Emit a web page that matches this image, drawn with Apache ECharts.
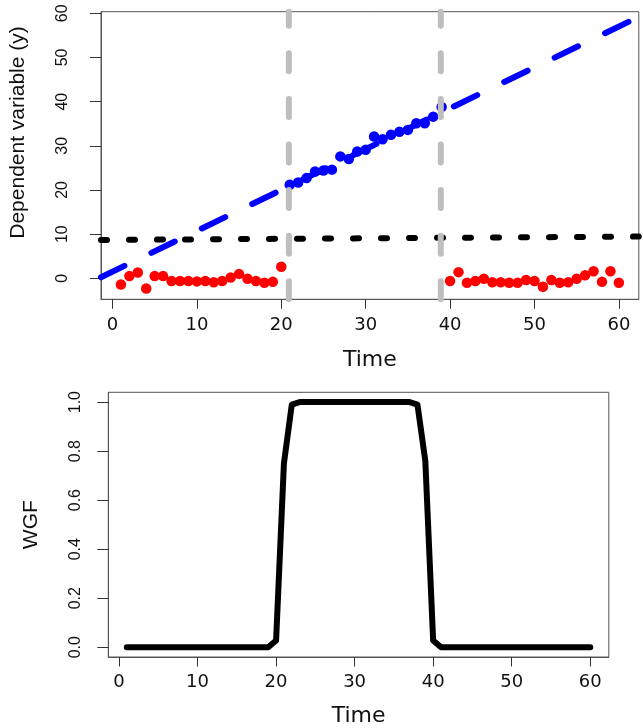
<!DOCTYPE html>
<html>
<head>
<meta charset="utf-8">
<script src="https://cdn.jsdelivr.net/npm/echarts@6/dist/echarts.min.js"></script>
<style>html,body{margin:0;padding:0;background:#fff;}#c{width:643px;height:728px;}</style>
</head>
<body>
<div id="c"></div>
<script>
// ---- data ----
var redTime = [1,2,3,4,5,6,7,8,9,10,11,12,13,14,15,16,17,18,19,20,
               40,41,42,43,44,45,46,47,48,49,50,51,52,53,54,55,56,57,58,59,60];
var redY = [-1.4,0.5,1.3,-2.3,0.5,0.5,-0.6,-0.6,-0.6,-0.7,-0.6,-0.9,-0.6,0.2,1.0,-0.1,-0.6,-1.0,-0.8,2.6,
            -0.6,1.4,-1.0,-0.6,-0.1,-0.9,-0.9,-1.0,-1.0,-0.4,-0.6,-1.9,-0.4,-1.0,-0.9,-0.1,0.7,1.6,-0.8,1.6,-1.0];
var blueTime = [21,22,23,24,25,26,27,28,29,30,31,32,33,34,35,36,37,38,39];
var blueY = [21.2,21.7,22.7,24.2,24.4,24.6,27.6,27.0,28.7,29.1,32.1,31.5,32.5,33.2,33.6,35.1,35.1,36.6,38.8];
var blueTrend = {intercept: 1.5, slope: 0.925};
var blackTrend = {intercept: 8.7, slope: 0.012};
var changePoints = [20.9, 38.9];
var wgfTime = [1,2,3,4,5,6,7,8,9,10,11,12,13,14,15,16,17,18,19,20,
               21,22,23,24,25,26,27,28,29,30,31,32,33,34,35,36,37,38,39,40,
               41,42,43,44,45,46,47,48,49,50,51,52,53,54,55,56,57,58,59,60];
var wgfY = [0,0,0,0,0,0,0,0,0,0,0,0,0,0,0,0,0,0,0,0.027,
            0.75,0.99,1,1,1,1,1,1,1,1,1,1,1,1,1,1,1,0.99,0.76,0.027,
            0,0,0,0,0,0,0,0,0,0,0,0,0,0,0,0,0,0,0,0];
var xTicks = [0,10,20,30,40,50,60];
var yTicksTop = [0,10,20,30,40,50,60];
var yTicksBottom = [0,0.2,0.4,0.6,0.8,1.0];
var xRange = [-1.36, 62.36];
var yRangeTop = [-4.75, 60.36];
var yRangeBottom = [-0.04, 1.04];

// ---- build ----
function zip(a, b) { return a.map(function (v, i) { return [v, b[i]]; }); }
function trendLine(t) { return xRange.map(function (x) { return [x, t.intercept + t.slope * x]; }); }

var tickFont = {fontFamily: 'DejaVu Sans', fontSize: 18, color: '#111'};
var rotFont = {fontFamily: 'Liberation Sans', fontSize: 16, color: '#111'};

function xAxis(gi, margin, gap) {
  return {
    type: 'value', gridIndex: gi, min: xRange[0], max: xRange[1],
    axisLine: {show: true, onZero: false, lineStyle: {color: '#555', width: 1}},
    axisTick: {show: true, inside: false, length: 9.5, customValues: xTicks, lineStyle: {color: '#333', width: 1}},
    axisLabel: Object.assign({customValues: xTicks, margin: margin, formatter: function (v) { return String(v); }}, tickFont),
    splitLine: {show: false},
    name: 'Time', nameLocation: 'middle', nameGap: gap, nameMoveOverlap: false,
    nameTextStyle: {fontFamily: 'DejaVu Sans', fontSize: 22, color: '#111'}
  };
}
function yAxis(gi, range, ticks, margin, name, gap, pad, fmt) {
  return {
    type: 'value', gridIndex: gi, min: range[0], max: range[1],
    axisLine: {show: true, onZero: false, lineStyle: {color: '#555', width: 1}},
    axisTick: {show: true, inside: false, length: 11, customValues: ticks, lineStyle: {color: '#333', width: 1}},
    axisLabel: Object.assign({customValues: ticks, margin: margin, rotate: 90, formatter: fmt}, rotFont),
    splitLine: {show: false},
    name: name, nameLocation: 'middle', nameGap: gap, nameRotate: 90, nameMoveOverlap: false,
    nameTextStyle: {fontFamily: 'Liberation Sans', fontSize: 21, color: '#111', padding: pad}
  };
}

var series = [
  {type: 'scatter', xAxisIndex: 0, yAxisIndex: 0, data: zip(redTime, redY), symbol: 'circle', symbolSize: 10.5,
   itemStyle: {color: '#FF0000', opacity: 1}, z: 2},
  {type: 'scatter', xAxisIndex: 0, yAxisIndex: 0, data: zip(blueTime, blueY), symbol: 'circle', symbolSize: 10.5,
   itemStyle: {color: '#0000FF', opacity: 1}, z: 2},
  {type: 'line', xAxisIndex: 0, yAxisIndex: 0, data: trendLine(blackTrend), showSymbol: false, symbol: 'none',
   lineStyle: {color: '#000', width: 6, type: [6, 22], cap: 'round'}, z: 3, silent: true},
  {type: 'line', xAxisIndex: 0, yAxisIndex: 0, data: trendLine(blueTrend), showSymbol: false, symbol: 'none',
   lineStyle: {color: '#0000FF', width: 6, type: [26, 30], cap: 'round'}, z: 4, silent: true}
];
changePoints.forEach(function (cp) {
  series.push({type: 'line', xAxisIndex: 0, yAxisIndex: 0,
    data: [[cp, yRangeTop[0]], [cp, yRangeTop[1]]], showSymbol: false, symbol: 'none',
    lineStyle: {color: '#BEBEBE', width: 6, type: [18, 27.6], cap: 'round'}, z: 5, silent: true});
});
series.push({type: 'line', xAxisIndex: 1, yAxisIndex: 1, data: zip(wgfTime, wgfY), showSymbol: false, symbol: 'none',
  lineStyle: {color: '#000', width: 6, cap: 'round', join: 'round'}, z: 3, silent: true});

var chart = echarts.init(document.getElementById('c'), null, {renderer: 'canvas'});
chart.setOption({
  animation: false,
  backgroundColor: '#fff',
  grid: [
    {left: 98.5, top: 11.7, width: 540.3, height: 287.6, show: true, borderColor: '#555', borderWidth: 1, backgroundColor: 'transparent'},
    {left: 108.3, top: 392.3, width: 500.5, height: 267, show: true, borderColor: '#555', borderWidth: 1, backgroundColor: 'transparent'}
  ],
  xAxis: [xAxis(0, 17, 50), xAxis(1, 16, 48)],
  yAxis: [
    yAxis(0, yRangeTop, yTicksTop, 30, 'Dependent variable (y)', 72, [0, 0, 0, 46], function (v) { return String(v); }),
    yAxis(1, yRangeBottom, yTicksBottom, 25, 'WGF', 67, 0, function (v) { return v.toFixed(1); })
  ],
  series: series
});
</script>
</body>
</html>
